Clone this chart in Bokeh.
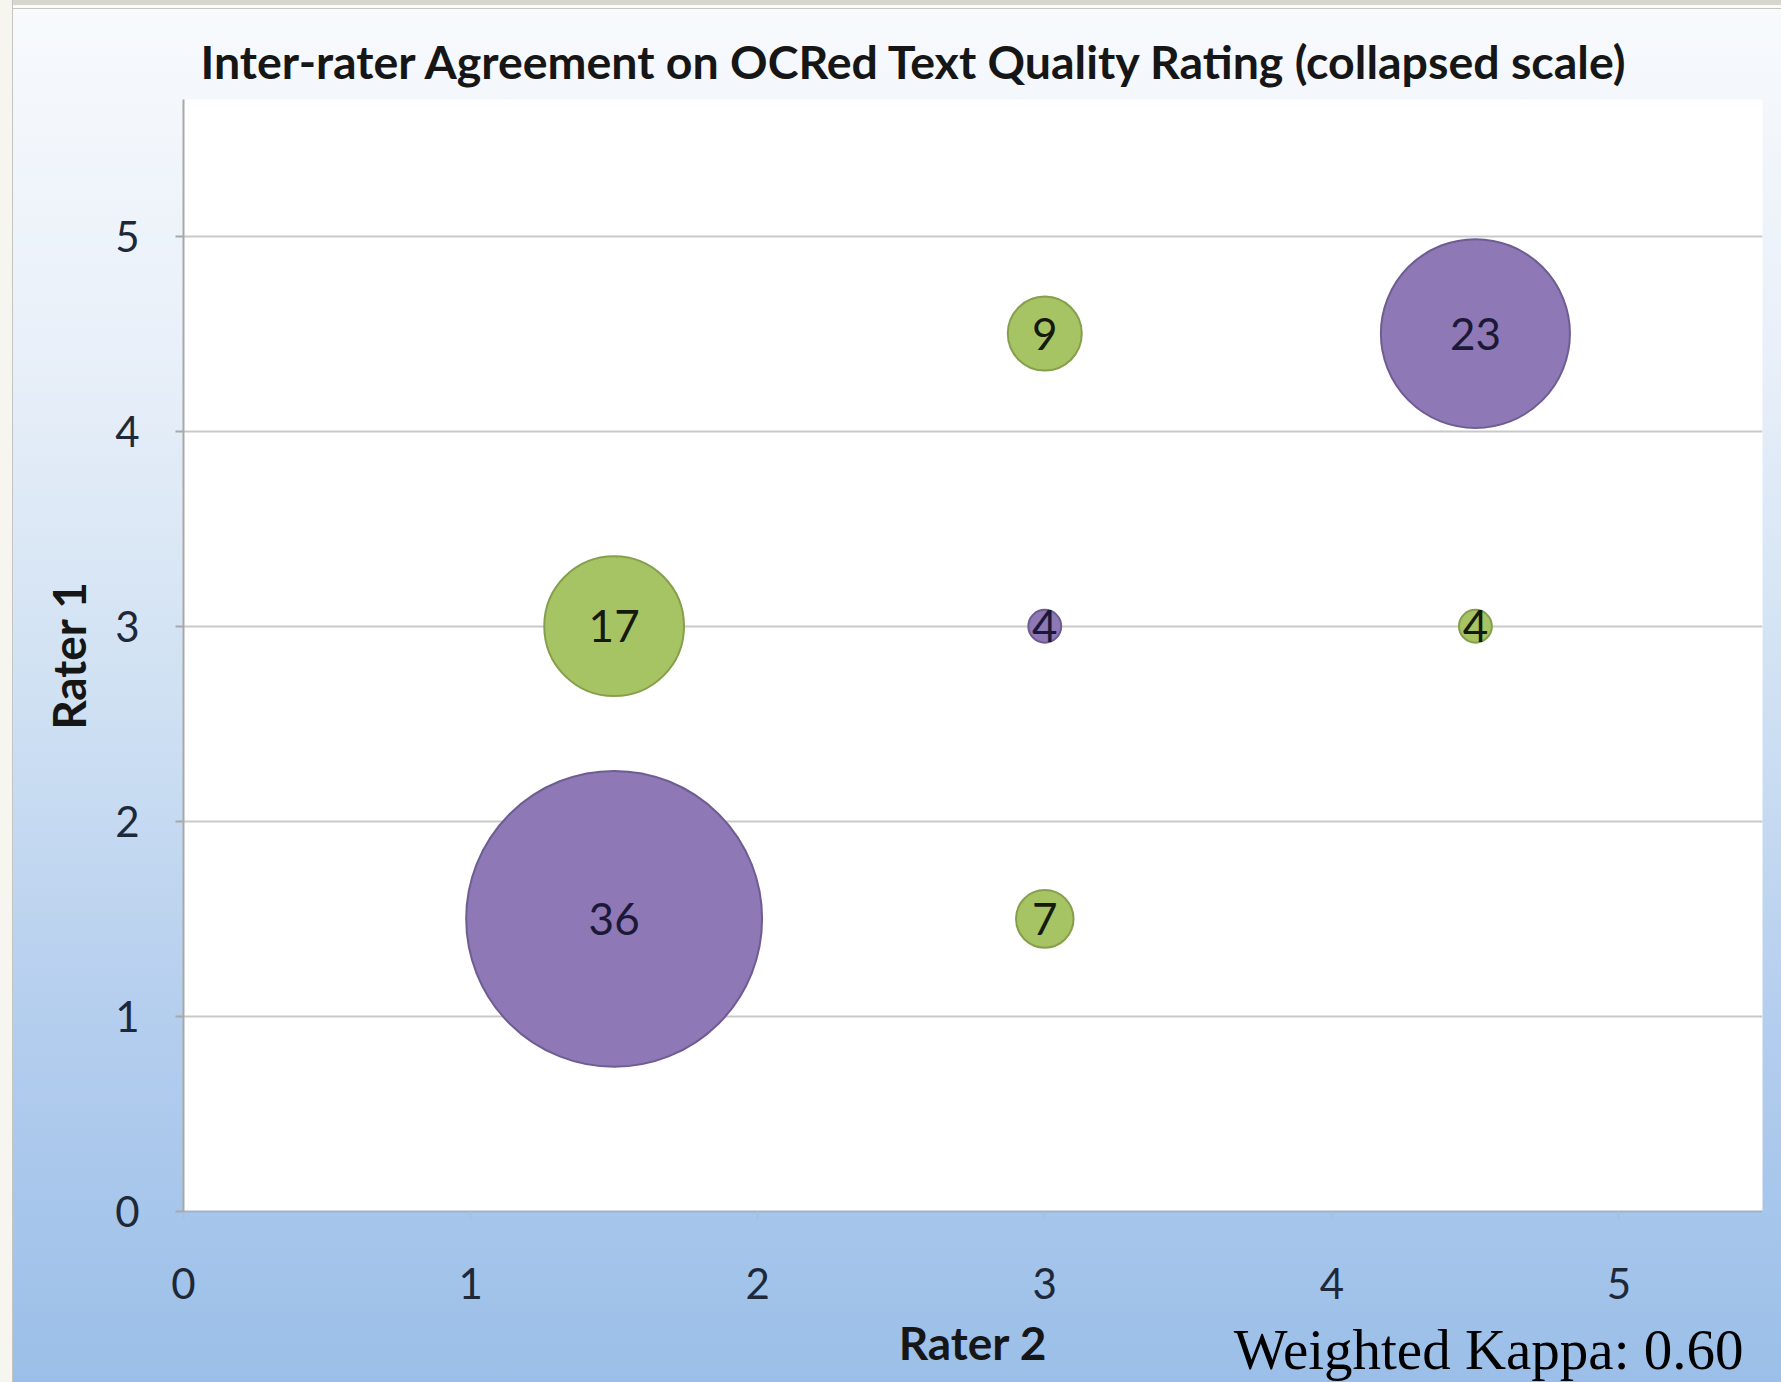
from bokeh.plotting import figure
from bokeh.models import ColumnDataSource, FixedTicker, Range1d, Title
from bokeh.core.properties import value
from bokeh.embed import file_html
from bokeh.resources import INLINE

# ---- data ----
agree_rater2 = [1.5, 3.0, 4.5]
agree_rater1 = [1.5, 3.0, 4.5]
agree_counts = [36, 4, 23]

disagree_rater2 = [1.5, 3.0, 3.0, 4.5]
disagree_rater1 = [3.0, 1.5, 4.5, 3.0]
disagree_counts = [17, 7, 9, 4]

x_ticks = [0, 1, 2, 3, 4, 5]
y_ticks = [0, 1, 2, 3, 4, 5]
title_text = "Inter-rater Agreement on OCRed Text Quality Rating (collapsed scale)"
x_label = "Rater 2"
y_label = "Rater 1"
kappa_text = "Weighted Kappa: 0.60"

PX_PER_COUNT = 8.22  # bubble diameter in pixels per count

W, H = 1781, 1382
p = figure(width=W, height=H, output_backend="svg", toolbar_location=None,
           x_range=Range1d(0, 5.5), y_range=Range1d(0, 5.7),
           min_border_left=183, min_border_right=19,
           min_border_top=99, min_border_bottom=171)

p.styles = {"background": (
    "linear-gradient(to right, #f6f5f0 0px, #f6f5f0 12px, #c4c4c0 12px, #c4c4c0 13px, transparent 13px), "
    "linear-gradient(to bottom, #d6d6cf 0px, #d6d6cf 5px, #fbfbf9 5px, #fbfbf9 8px, #c4c4c0 8px, #c4c4c0 9px, transparent 9px), "
    "linear-gradient(to bottom, #f8fafd 0%, #e9f0f9 25%, #d0e1f3 50%, #b3cdee 75%, #9bbfe8 100%)")}
p.border_fill_color = None
p.background_fill_color = "white"
p.outline_line_color = None

# title
p.title.text = title_text
p.title.text_font = "Lato"
p.title.text_font_style = "bold"
p.title.text_font_size = "46.5px"
p.title.text_color = "#161616"
p.title.align = "left"
p.title.offset = 17
p.title.standoff = 22

# grid
p.xgrid.grid_line_color = None
p.ygrid.grid_line_color = "#c9c9c9"
p.ygrid.grid_line_width = 2

# axes
for ax in (p.xaxis[0], p.yaxis[0]):
    ax.major_label_text_font = "Lato"
    ax.major_label_text_font_size = "42px"
    ax.major_label_text_color = "#1e2838"
    ax.axis_label_text_font = "Lato"
    ax.axis_label_text_font_style = "bold"
    ax.axis_label_text_font_size = "46px"
    ax.axis_label_text_color = "#161616"
    ax.minor_tick_line_color = None
    ax.major_tick_in = 0
    ax.major_tick_out = 8
    ax.major_tick_line_width = 2

p.xaxis.ticker = FixedTicker(ticks=x_ticks)
p.yaxis.ticker = FixedTicker(ticks=y_ticks)
p.xaxis.axis_label = x_label
p.yaxis.axis_label = y_label

p.xaxis.axis_line_color = "#9db3cc"
p.xaxis.axis_line_width = 2
p.xaxis.major_tick_line_color = "#a9c0da"
p.xaxis.major_label_standoff = 48
p.xaxis.axis_label_standoff = 13

p.yaxis.axis_line_color = "#a8a8a8"
p.yaxis.axis_line_width = 2
p.yaxis.major_tick_line_color = "#a8a8a8"
p.yaxis.major_label_standoff = 36
p.yaxis.axis_label_standoff = 16

# bubbles
agree_src = ColumnDataSource(dict(x=agree_rater2, y=agree_rater1, n=agree_counts,
                                  size=[c * PX_PER_COUNT for c in agree_counts],
                                  label=[str(c) for c in agree_counts]))
dis_src = ColumnDataSource(dict(x=disagree_rater2, y=disagree_rater1, n=disagree_counts,
                                size=[c * PX_PER_COUNT for c in disagree_counts],
                                label=[str(c) for c in disagree_counts]))

p.scatter("x", "y", size="size", source=agree_src, fill_color="#8e78b5",
          line_color="#6e5d92", line_width=2)
p.scatter("x", "y", size="size", source=dis_src, fill_color="#a6c463",
          line_color="#869f4c", line_width=2)

p.text("x", "y", text="label", source=agree_src, text_font=value("Lato"),
       text_font_size="44px", text_color="#1c1838", text_align="center",
       text_baseline="middle")
p.text("x", "y", text="label", source=dis_src, text_font=value("Lato"),
       text_font_size="44px", text_color="#141a0c", text_align="center",
       text_baseline="middle")

# kappa note, placed in the panel under the x axis
kappa = Title(text=kappa_text, align="right", offset=19, vertical_align="top",
              standoff=-110, text_font="Liberation Serif", text_font_size="57px",
              text_font_style="normal", text_color="#000000")
p.add_layout(kappa, "below")

open("out.html", "w").write(file_html(p, INLINE))
